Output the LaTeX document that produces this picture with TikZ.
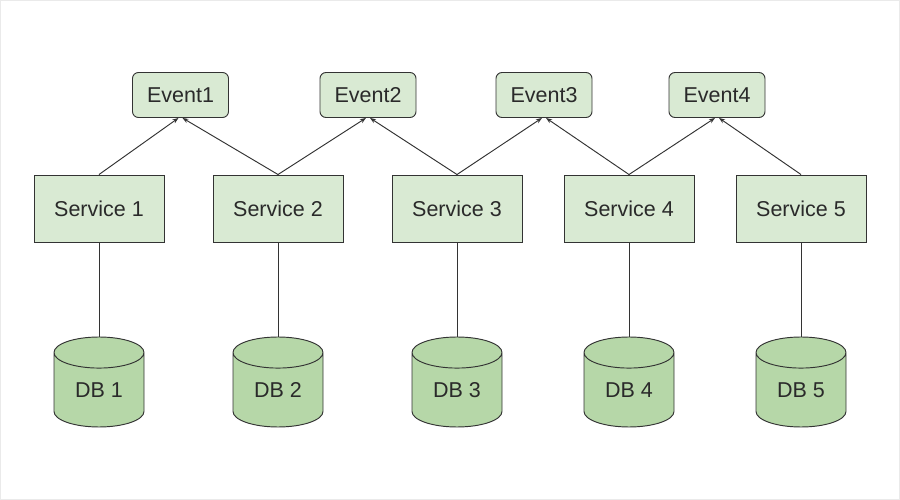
\documentclass[tikz,border=0pt]{standalone}
\usepackage{fontspec}
\setmainfont{Liberation Sans}
\usetikzlibrary{shapes.geometric,arrows.meta}
\definecolor{lightfill}{HTML}{D9EAD3}
\definecolor{dbfill}{HTML}{B6D7A8}
\definecolor{linec}{HTML}{333333}
\definecolor{txtc}{HTML}{2A2A2A}
\definecolor{framec}{HTML}{EAEAEA}
\tikzset{
  eventbox/.style={draw=linec, fill=lightfill, rounded corners=6pt, line width=0.95pt,
    minimum width=96pt, minimum height=45pt, inner sep=0pt},
  servicebox/.style={draw=linec, fill=lightfill, line width=0.95pt,
    minimum width=130pt, minimum height=67pt, inner sep=0pt},
  dbnode/.style={draw=linec, fill=dbfill, line width=0.95pt, cylinder, shape border rotate=90,
    aspect=0.65, minimum width=90pt, minimum height=90pt, inner sep=0pt},
  arr/.style={draw=linec, line width=0.95pt, -{Stealth[length=6pt,width=4.5pt]}},
  link/.style={draw=linec, line width=0.95pt}
}
\begin{document}
\begin{tikzpicture}[x=1pt,y=-1pt, font=\fontsize{21.5}{25}\selectfont, text=txtc]
\useasboundingbox (0,0) rectangle (900,500);
\draw[framec, line width=1pt] (0.5,0.5) rectangle (899.5,499.5);
% events
\node[eventbox] (e1) at (180.5,95) {Event1};
\node[eventbox] (e2) at (368,95) {Event2};
\node[eventbox] (e3) at (544,95) {Event3};
\node[eventbox] (e4) at (717,95) {Event4};
% services
\node[servicebox] (s1) at (99,208.5) {Service 1};
\node[servicebox] (s2) at (278,208.5) {Service 2};
\node[servicebox] (s3) at (457,208.5) {Service 3};
\node[servicebox] (s4) at (629,208.5) {Service 4};
\node[servicebox] (s5) at (801,208.5) {Service 5};
% databases
\node[dbnode] (d1) at (99,390) {DB 1};
\node[dbnode] (d2) at (278,390) {DB 2};
\node[dbnode] (d3) at (457,390) {DB 3};
\node[dbnode] (d4) at (629,390) {DB 4};
\node[dbnode] (d5) at (801,390) {DB 5};
% arrows
\draw[arr] (s1.north) -- ([xshift=-2pt]e1.south);
\draw[arr] (s2.north) -- ([xshift=2pt]e1.south);
\draw[arr] (s2.north) -- ([xshift=-2pt]e2.south);
\draw[arr] (s3.north) -- ([xshift=2pt]e2.south);
\draw[arr] (s3.north) -- ([xshift=-2pt]e3.south);
\draw[arr] (s4.north) -- ([xshift=2pt]e3.south);
\draw[arr] (s4.north) -- ([xshift=-2pt]e4.south);
\draw[arr] (s5.north) -- ([xshift=2pt]e4.south);
% links
\draw[link] (s1.south) -- (d1.top);
\draw[link] (s2.south) -- (d2.top);
\draw[link] (s3.south) -- (d3.top);
\draw[link] (s4.south) -- (d4.top);
\draw[link] (s5.south) -- (d5.top);
\end{tikzpicture}
\end{document}
